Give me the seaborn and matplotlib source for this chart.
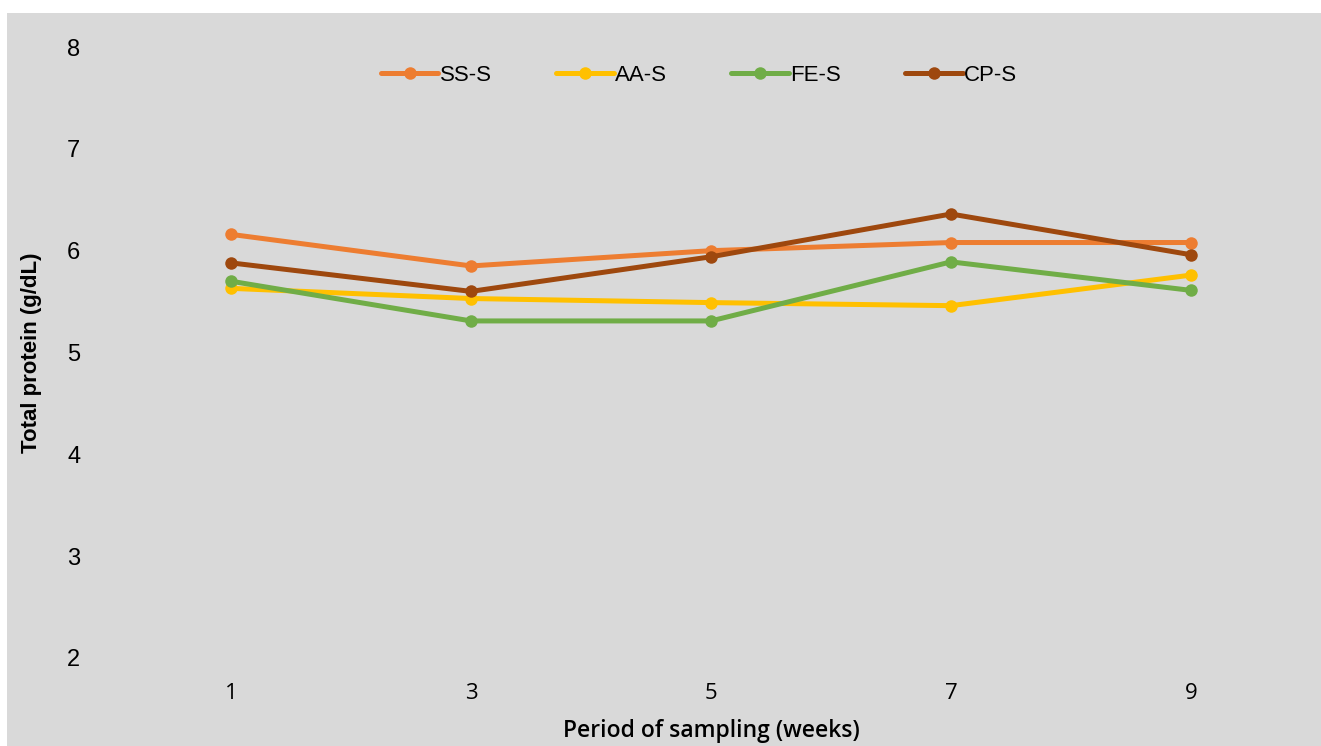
import pandas as pd
import matplotlib
matplotlib.use('Agg')
import matplotlib.pyplot as plt
import seaborn as sns
from matplotlib.patches import Rectangle

# data
weeks = ['1', '3', '5', '7', '9']
ss_s = [6.16, 5.85, 6.00, 6.08, 6.08]
aa_s = [5.63, 5.53, 5.49, 5.46, 5.76]
fe_s = [5.70, 5.31, 5.31, 5.89, 5.61]
cp_s = [5.88, 5.60, 5.94, 6.36, 5.96]
groups = ['SS-S', 'AA-S', 'FE-S', 'CP-S']
colors = ['#ED7D31', '#FFC000', '#70AD47', '#9E480E']

df = pd.DataFrame({'Week': weeks * 4,
                   'Protein': ss_s + aa_s + fe_s + cp_s,
                   'Group': [g for g in groups for _ in weeks]})

sns.set_style('white')
plt.rcParams['font.family'] = ['Liberation Sans', 'DejaVu Sans']
plt.rcParams['text.color'] = 'black'
plt.rcParams['axes.labelcolor'] = 'black'
plt.rcParams['xtick.color'] = 'black'
plt.rcParams['ytick.color'] = 'black'

bg = '#D9D9D9'
fig = plt.figure(figsize=(13.21, 7.46), dpi=100, facecolor='white')
fig.patches.append(Rectangle((7 / 1321, 0), 1 - 7 / 1321, 1 - 13 / 746,
                             transform=fig.transFigure, facecolor=bg,
                             edgecolor='none', zorder=-10))
ax = fig.add_axes([111 / 1321, 1 - 658 / 746, 1200 / 1321, 611 / 746])
ax.set_facecolor(bg)

sns.lineplot(data=df, x='Week', y='Protein', hue='Group', palette=colors,
             marker='o', markersize=9, markeredgewidth=0, linewidth=3.6,
             ax=ax, legend=False)

ax.set_xlim(-0.5, 4.5)
ax.set_ylim(2, 8)
ax.set_yticks(range(2, 9))
for s in ax.spines.values():
    s.set_visible(False)
ax.tick_params(length=0)
ax.tick_params(axis='y', labelsize=17, pad=22)
ax.tick_params(axis='x', pad=18)
for t in ax.get_xticklabels():
    t.set_fontfamily(['Open Sans', 'DejaVu Sans'])
    t.set_fontsize(16)
ax.set_xlabel('Period of sampling (weeks)', fontsize=16.5, fontweight='semibold',
              family=['Open Sans', 'DejaVu Sans'], labelpad=11)
ax.set_ylabel('Total protein (g/dL)', fontsize=16, fontweight='bold', labelpad=18)

handles = [plt.Line2D([], [], color=c, linewidth=3.6, marker='o', markersize=9,
                      markeredgewidth=0) for c in colors]
ax.legend(handles, groups, loc='center', bbox_to_anchor=(0.49, 0.953), ncol=4,
          frameon=False, handlelength=2.6, handletextpad=0.05, columnspacing=2.9,
          prop={'family': ['Liberation Sans Narrow', 'Liberation Sans'], 'size': 16})

fig.savefig('out.png', dpi=100, facecolor='white')
